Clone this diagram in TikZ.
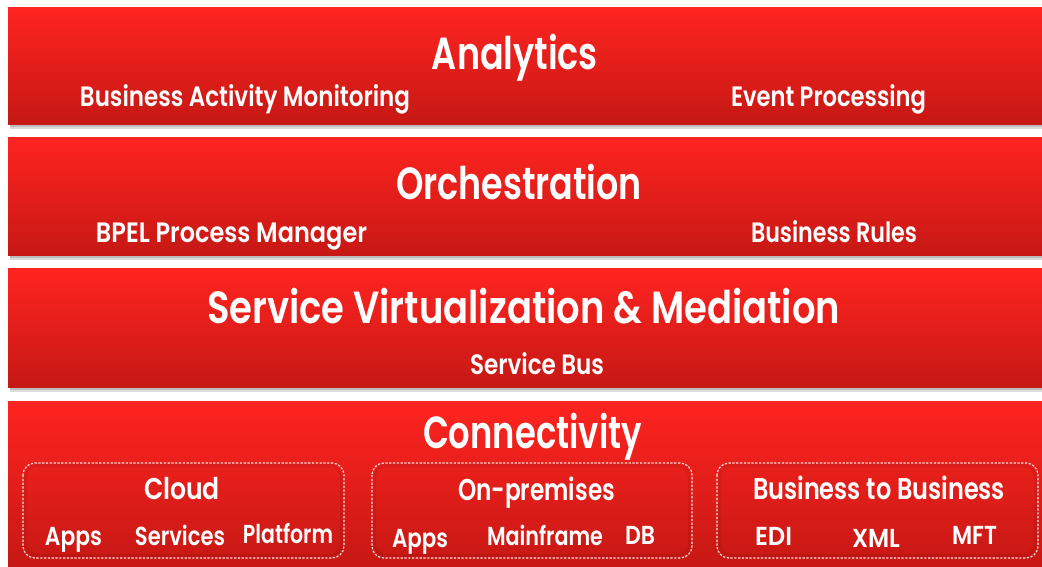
\documentclass[tikz,border=0pt]{standalone}
\usepackage{fontspec}
\usepackage{graphicx}
\setmainfont{Poppins}[UprightFont={* SemiBold}, BoldFont={* Bold}]
\definecolor{redtop}{RGB}{255,36,32}
\definecolor{redmid}{RGB}{238,30,26}
\definecolor{redbot}{RGB}{198,24,20}
\definecolor{dashc}{RGB}{255,225,222}
\newcommand\fitw[2]{\resizebox{#1pt}{\height}{#2}}
\tikzset{
  band/.style={draw=none, top color=redtop, middle color=redmid, bottom color=redbot,
    minimum width=1034pt, anchor=north west, inner sep=0pt, outer sep=0pt},
  bandshadow/.style={fill=black, opacity=.14},
  grp/.style={draw=dashc, line width=1.2pt, dash pattern=on 2.2pt off 1.6pt,
    rounded corners=12pt},
  grpshade/.style={draw=black, line width=3pt, opacity=.06, rounded corners=12pt},
  lbl/.style={text=white, anchor=base, inner sep=0pt, outer sep=0pt},
  ttl/.style={lbl, font=\fontsize{45}{45}\selectfont},
  sub/.style={lbl, font=\fontsize{28}{28}\selectfont},
  gttl/.style={lbl, font=\fontsize{30}{30}\selectfont},
  itm/.style={lbl, font=\fontsize{26}{26}\selectfont},
}
\begin{document}
\begin{tikzpicture}[x=1pt,y=-1pt]
\useasboundingbox (0,0) rectangle (1042,566);
\fill[white] (0,0) rectangle (1042,566);
% shadows
\foreach \b in {124,255,387}{
  \fill[bandshadow] (10,\b) rectangle (1042,\b+4.5);
  \fill[bandshadow] (10,\b) rectangle (1042,\b+2.5);
}
% bands
\node[band, minimum height=117pt] (analytics) at (8,7) {};
\node[band, minimum height=118pt] (orch) at (8,137) {};
\node[band, minimum height=119pt] (svm) at (8,268) {};
\node[band, minimum height=165pt] (conn) at (8,401) {};
% group boxes
\foreach \xa/\xb in {23/344, 372/692, 717/1038}{
  \draw[grpshade] (\xa+2.5,465.5) rectangle (\xb-2.5,555.5);
}
\draw[grp] (23,463) rectangle (344,558);
\draw[grp] (372,463) rectangle (692,558);
\draw[grp] (717,463) rectangle (1038,558);
% texts
\node[ttl] (t1) at (515,69) {\fitw{166}{Analytics}};
\node[sub] (bam) at (245,106) {\fitw{330}{Business Activity Monitoring}};
\node[sub] (ep) at (828.5,106) {\fitw{195}{Event Processing}};
\node[ttl] (t2) at (519,199) {\fitw{246}{Orchestration}};
\node[sub] (bpel) at (231.5,242) {\fitw{271}{BPEL Process Manager}};
\node[sub] (br) at (834,242) {\fitw{166}{Business Rules}};
\node[ttl] (t3) at (523.5,323) {\fitw{633}{Service Virtualization \& Mediation}};
\node[sub] (sb) at (537,374) {\fitw{134}{Service Bus}};
\node[ttl] (t4) at (532.5,448) {\fitw{219}{Connectivity}};
\node[gttl] (cloud) at (182,499) {\fitw{76}{Cloud}};
\node[itm] (capps) at (73.5,545) {\fitw{57}{Apps}};
\node[itm] (cserv) at (180,545) {\fitw{90}{Services}};
\node[itm] (cplat) at (288,543) {\fitw{90}{Platform}};
\node[gttl] (onp) at (536.5,500) {\fitw{157}{On-premises}};
\node[itm] (oapps) at (420,547) {\fitw{56}{Apps}};
\node[itm] (omf) at (545,545) {\fitw{116}{Mainframe}};
\node[itm] (odb) at (640,544) {\fitw{30}{DB}};
\node[gttl] (b2b) at (879,499) {\fitw{252}{Business to Business}};
\node[itm] (edi) at (773.5,545) {\fitw{37}{EDI}};
\node[itm] (xml) at (876,547) {\fitw{48}{XML}};
\node[itm] (mft) at (974.5,544) {\fitw{45}{MFT}};
\end{tikzpicture}
\end{document}
